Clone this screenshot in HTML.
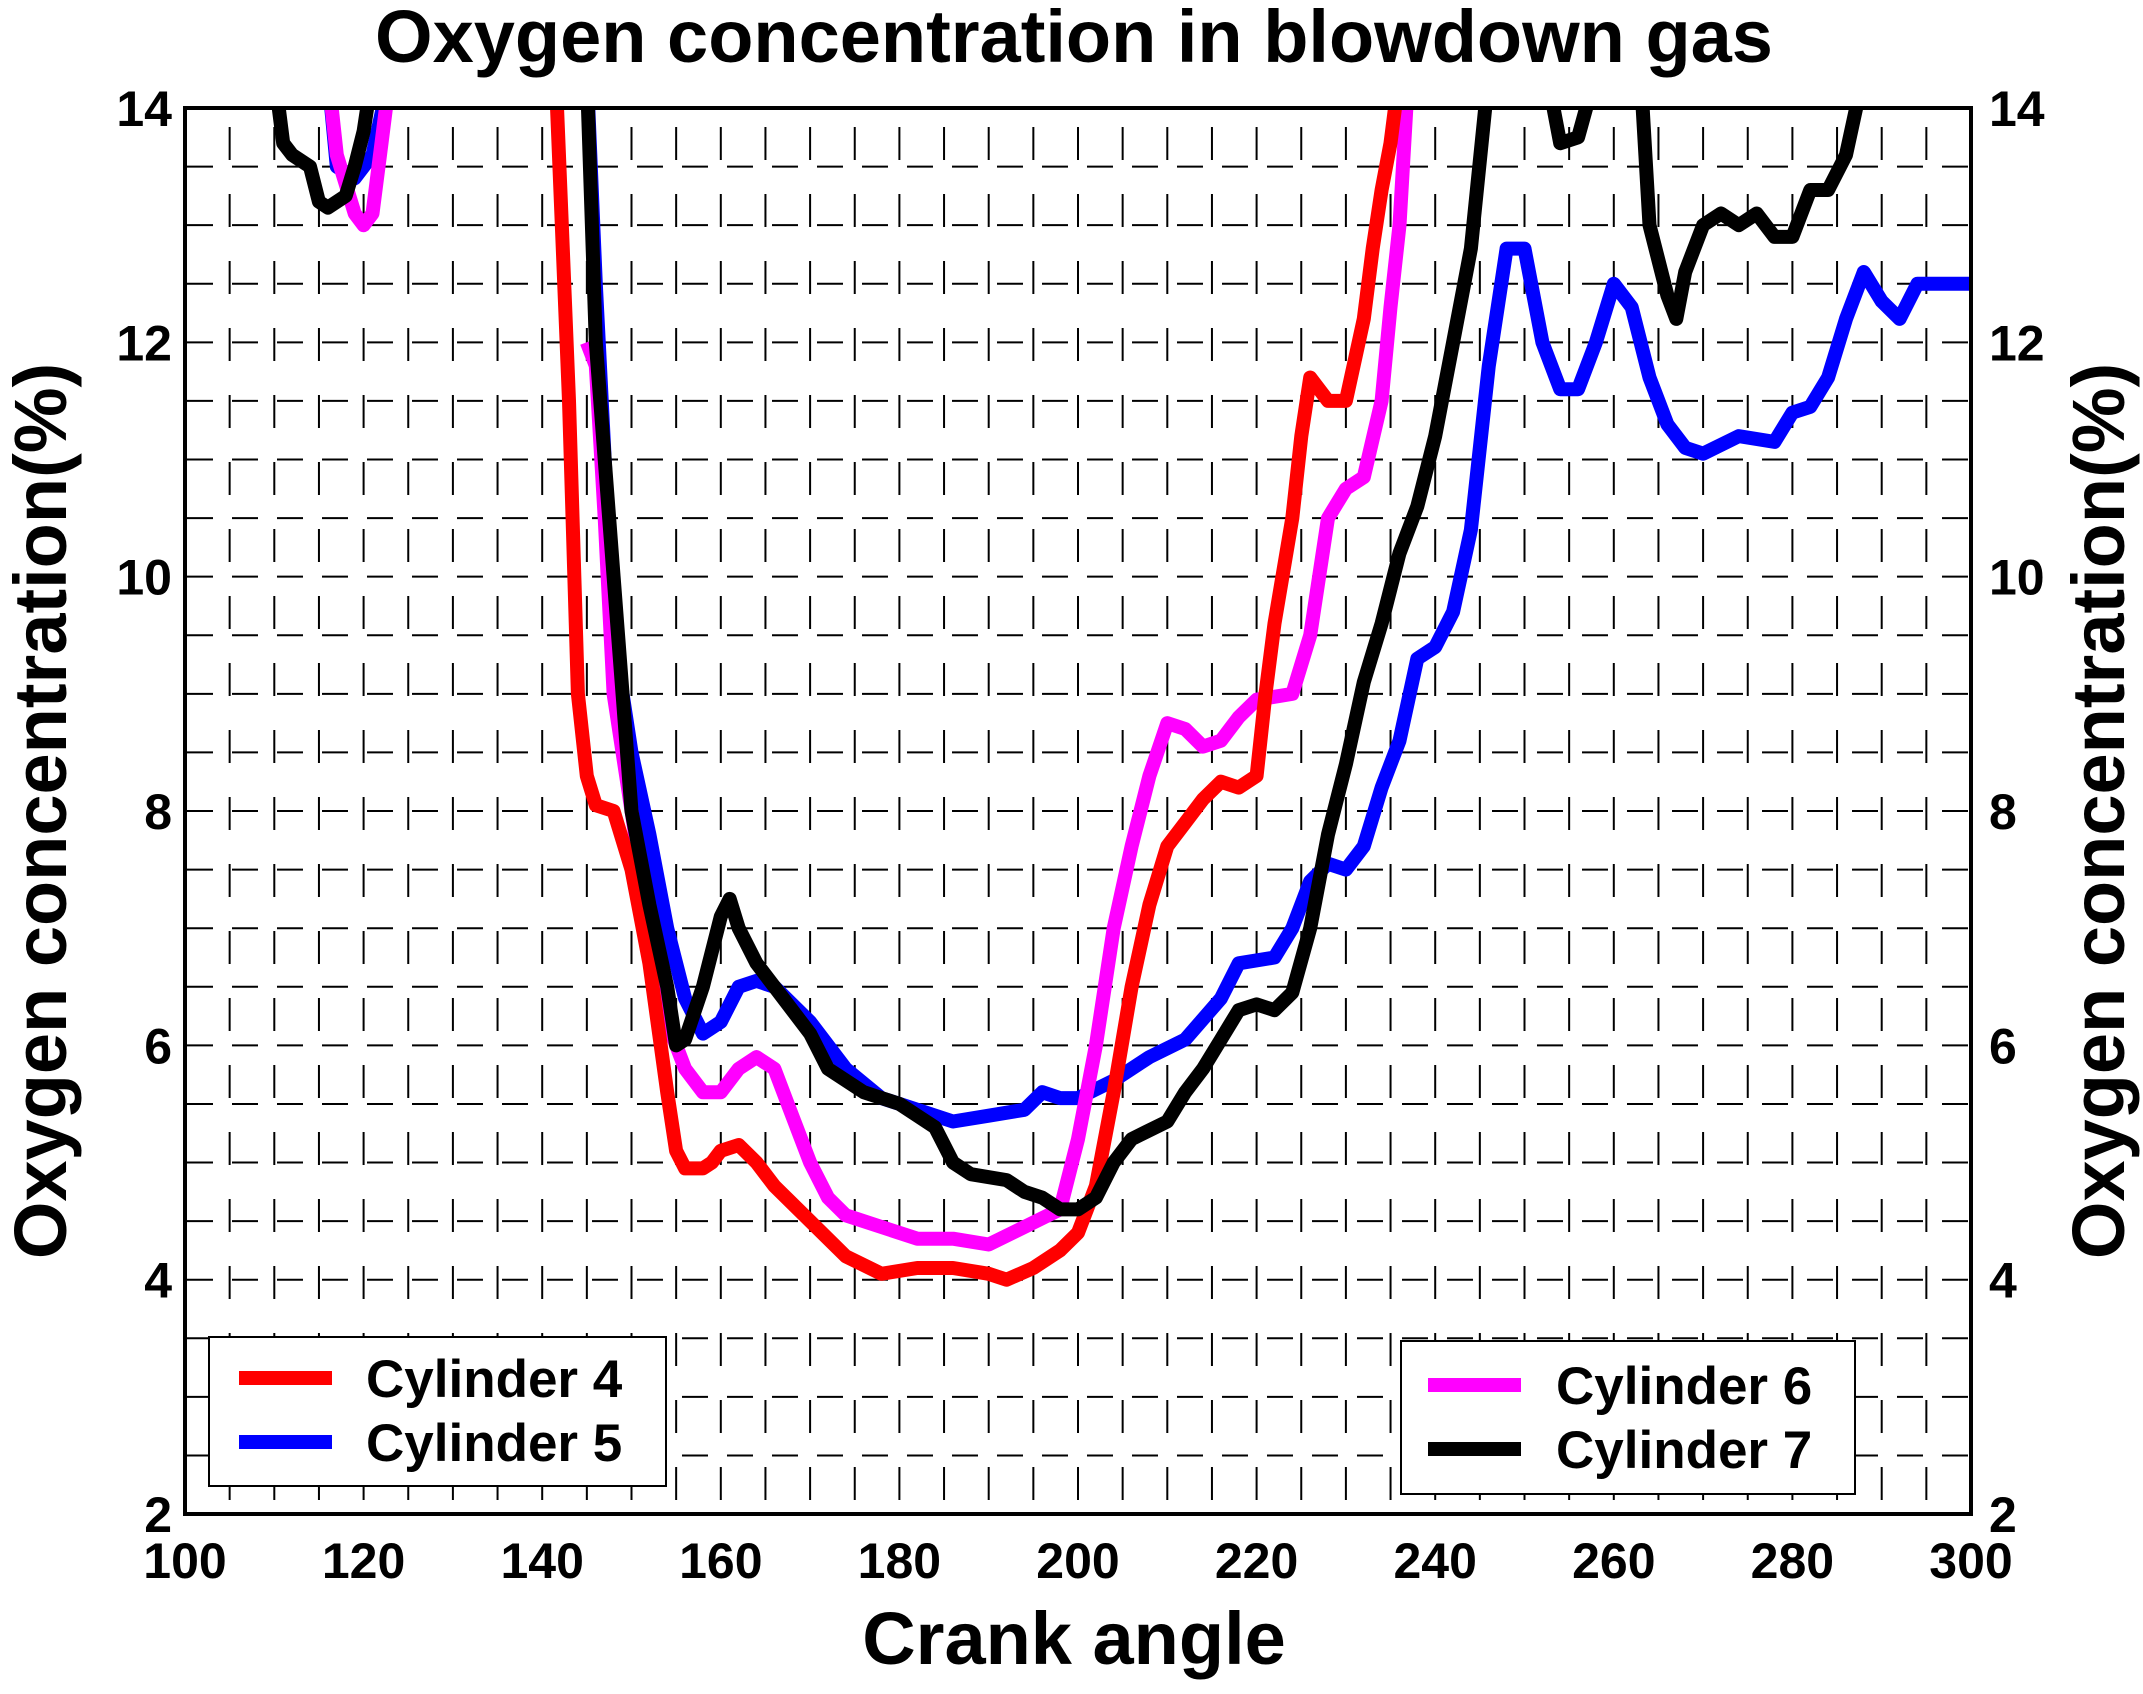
<!DOCTYPE html>
<html><head><meta charset="utf-8"><style>
html,body{margin:0;padding:0;background:#fff}
svg{display:block}
text{font-family:"Liberation Sans",Arial,sans-serif;font-weight:bold;fill:#000}
</style></head><body>
<svg id="s" width="2143" height="1694" viewBox="0 0 2143 1694" xmlns="http://www.w3.org/2000/svg">
<defs><clipPath id="c"><rect x="185" y="108" width="1786" height="1406"/></clipPath></defs>
<rect width="2143" height="1694" fill="#fff"/>
<g id="grid" stroke="#000" stroke-width="2"></g>
<g id="series" clip-path="url(#c)" fill="none" stroke-width="14" stroke-linejoin="round" stroke-linecap="butt"></g>
<rect x="185" y="108" width="1786" height="1406" fill="none" stroke="#000" stroke-width="4"/>
<text x="1074" y="62" font-size="74" text-anchor="middle">Oxygen concentration in blowdown gas</text>
<text x="1074" y="1664" font-size="74" text-anchor="middle">Crank angle</text>
<text transform="translate(66,811) rotate(-90)" font-size="74" text-anchor="middle">Oxygen concentration(%)</text>
<text transform="translate(2124,811) rotate(-90)" font-size="74" text-anchor="middle">Oxygen concentration(%)</text>
<g id="lab" font-size="50"></g>
<g>
<rect x="209" y="1337" width="457" height="149" fill="#fff" stroke="#000" stroke-width="2"/>
<line x1="239" y1="1378" x2="332" y2="1378" stroke="#f00" stroke-width="14"/>
<line x1="239" y1="1442" x2="332" y2="1442" stroke="#00f" stroke-width="14"/>
<text x="366" y="1397" font-size="53">Cylinder 4</text>
<text x="366" y="1461" font-size="53">Cylinder 5</text>
<rect x="1401" y="1341" width="454" height="153" fill="#fff" stroke="#000" stroke-width="2"/>
<line x1="1428" y1="1385" x2="1521" y2="1385" stroke="#f0f" stroke-width="14"/>
<line x1="1428" y1="1449" x2="1521" y2="1449" stroke="#000" stroke-width="14"/>
<text x="1556" y="1404" font-size="53">Cylinder 6</text>
<text x="1556" y="1468" font-size="53">Cylinder 7</text>
</g>
</svg>
<script>
var NS="http://www.w3.org/2000/svg";
function X(a){return 185+(a-100)*8.93}
function Y(v){return 108+(14-v)*117.17}
function el(p,t,at){var e=document.createElementNS(NS,t);for(var k in at)e.setAttribute(k,at[k]);p.appendChild(e);return e}
var g=document.getElementById('grid');
for(var a=105;a<300;a+=5){el(g,'line',{x1:X(a),y1:108,x2:X(a),y2:1514,'stroke-dasharray':'33 34','stroke-dashoffset':'-19'})}
for(var v=2.5;v<14;v+=0.5){el(g,'line',{x1:185,y1:Y(v),x2:1971,y2:Y(v),'stroke-dasharray':'26 19','stroke-dashoffset':'-2'})}
var lab=document.getElementById('lab');
for(var a=100;a<=300;a+=20){var t=el(lab,'text',{x:X(a),y:1578,'text-anchor':'middle'});t.textContent=a}
for(var v=2;v<=14;v+=2){var t=el(lab,'text',{x:172,y:Y(v)+18,'text-anchor':'end'});t.textContent=v;
 var t2=el(lab,'text',{x:1989,y:Y(v)+18});t2.textContent=v}
var S=document.getElementById('series');
function draw(c,pts){var d='';pts.forEach(function(p,i){d+=(i?'L':'M')+X(p[0]).toFixed(1)+' '+Y(p[1]).toFixed(1)});el(S,'path',{d:d,stroke:c})}
draw('#00f',[[116,14.3],[117,13.5],[119,13.4],[121,13.6],[123,14.3]]);
draw('#00f',[[145,14.3],[146,12.5],[147,11],[148,9.5],[150,8.5],[152,7.8],[154,7],[156,6.4],[158,6.1],[160,6.2],[162,6.5],[164,6.55],[166,6.5],[170,6.2],[174,5.8],[178,5.55],[182,5.45],[186,5.35],[190,5.4],[194,5.45],[196,5.6],[198,5.55],[200,5.55],[204,5.7],[208,5.9],[212,6.05],[216,6.4],[218,6.7],[222,6.75],[224,7.0],[226,7.4],[228,7.55],[230,7.5],[232,7.7],[234,8.2],[236,8.6],[238,9.3],[240,9.4],[242,9.7],[244,10.4],[246,11.8],[248,12.8],[250,12.8],[252,12.0],[254,11.6],[256,11.6],[258,12.0],[260,12.5],[262,12.3],[264,11.7],[266,11.3],[268,11.1],[270,11.05],[274,11.2],[278,11.15],[280,11.4],[282,11.45],[284,11.7],[286,12.2],[288,12.6],[290,12.35],[292,12.2],[294,12.5],[296,12.5],[301,12.5]]);
draw('#f0f',[[116,14.3],[117,13.6],[119,13.1],[120,13.0],[121,13.1],[122,13.7],[123,14.3]]);
draw('#f0f',[[145,12],[146,11.8],[147,10.5],[148,9],[150,8],[152,7],[154,6.2],[156,5.8],[158,5.6],[160,5.6],[162,5.8],[164,5.9],[166,5.8],[168,5.4],[170,5.0],[172,4.7],[174,4.55],[178,4.45],[182,4.35],[186,4.35],[190,4.3],[194,4.45],[198,4.6],[200,5.2],[202,6.0],[204,7.0],[206,7.7],[208,8.3],[210,8.75],[212,8.7],[214,8.55],[216,8.6],[218,8.8],[220,8.95],[224,9.0],[226,9.5],[228,10.5],[230,10.75],[232,10.85],[234,11.5],[235,12.3],[236,13],[237,14.3]]);
draw('#f00',[[141.5,14.3],[143,11.5],[144,9],[145,8.3],[146,8.05],[148,8],[150,7.5],[152,6.7],[154,5.6],[155,5.1],[156,4.95],[158,4.95],[159,5.0],[160,5.1],[162,5.15],[164,5.0],[166,4.8],[170,4.5],[174,4.2],[178,4.05],[182,4.1],[186,4.1],[190,4.05],[192,4.0],[195,4.1],[198,4.25],[200,4.4],[202,4.8],[204,5.6],[206,6.5],[208,7.2],[210,7.7],[212,7.9],[214,8.1],[216,8.25],[218,8.2],[220,8.3],[221,9],[222,9.6],[224,10.5],[225,11.2],[226,11.7],[228,11.5],[230,11.5],[232,12.2],[233,12.8],[234,13.3],[235,13.7],[236,14.3]]);
draw('#000',[[110,14.3],[111,13.7],[112,13.6],[114,13.5],[115,13.2],[116,13.15],[118,13.25],[119,13.5],[120,13.8],[121,14.3]]);
draw('#000',[[145,14.3],[146,12],[148,10],[150,8],[152,7.2],[154,6.5],[155,6.0],[156,6.05],[158,6.5],[160,7.1],[161,7.25],[162,7.0],[164,6.7],[166,6.5],[170,6.1],[172,5.8],[176,5.6],[180,5.5],[182,5.4],[184,5.3],[186,5.0],[188,4.9],[192,4.85],[194,4.75],[196,4.7],[198,4.6],[200,4.6],[202,4.7],[204,5.0],[206,5.2],[210,5.35],[212,5.6],[214,5.8],[216,6.05],[218,6.3],[220,6.35],[222,6.3],[224,6.45],[226,7.0],[228,7.8],[230,8.4],[232,9.1],[234,9.6],[236,10.2],[238,10.6],[240,11.2],[242,12],[244,12.8],[246,14.3]]);
draw('#000',[[252.5,14.3],[254,13.7],[256,13.75],[258,14.3]]);
draw('#000',[[263,14.3],[264,13],[266,12.4],[267,12.2],[268,12.6],[270,13.0],[272,13.1],[274,13.0],[276,13.1],[278,12.9],[280,12.9],[282,13.3],[284,13.3],[286,13.6],[288,14.3]]);
</script>
</body></html>
